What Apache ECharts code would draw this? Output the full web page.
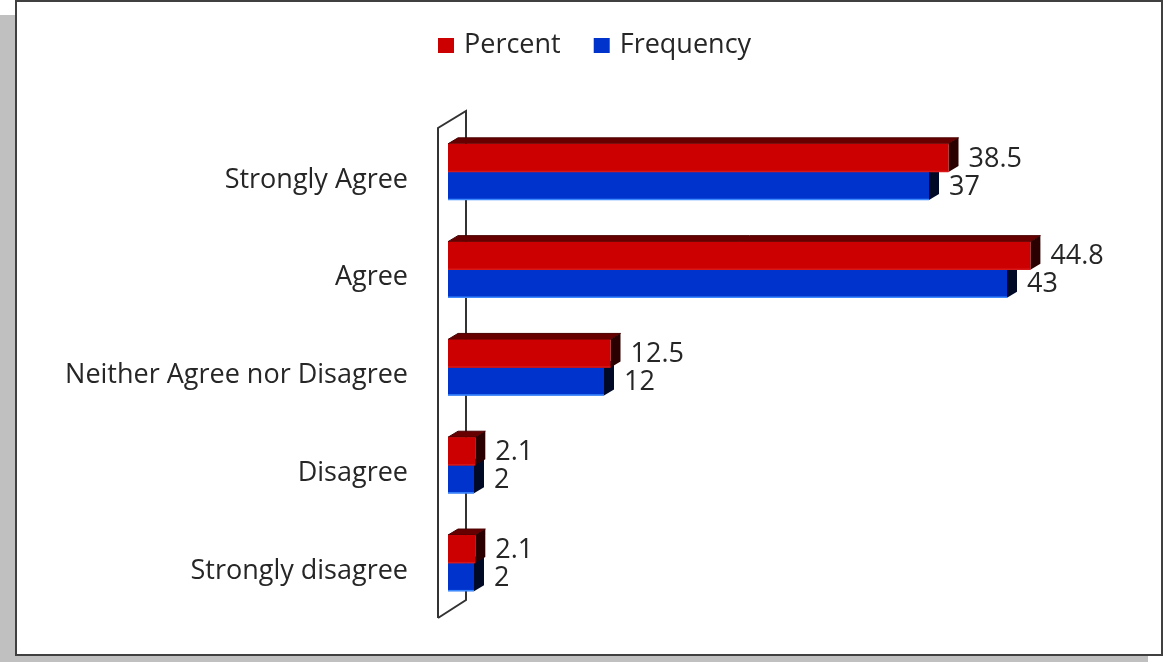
<!DOCTYPE html>
<html>
<head>
<meta charset="utf-8">
<script src="https://cdn.jsdelivr.net/npm/echarts@6/dist/echarts.min.js"></script>
<style>
html,body{margin:0;padding:0;background:#fff;}
#chart{width:1164px;height:662px;}
</style>
</head>
<body>
<div id="chart"></div>
<script>
const categories = ["Strongly Agree", "Agree", "Neither Agree nor Disagree", "Disagree", "Strongly disagree"];
const percentValues = [38.5, 44.8, 12.5, 2.1, 2.1];
const frequencyValues = [37, 43, 12, 2, 2];
const seriesNames = ["Percent", "Frequency"];

const FONT = "'Open Sans'";
const FS = 27;
const DX = 10, DY = -6;

function barRenderer(colors, offsetSign) {
  return function (params, api) {
    const val = api.value(0);
    const cat = api.value(1);
    const start = api.coord([0, cat]);
    const end = api.coord([val, cat]);
    const band = api.size([0, 1])[1];
    const h = band * 0.287;
    const y0 = offsetSign < 0 ? start[1] - h : start[1];
    const y1 = y0 + h;
    const x0 = start[0], x1 = end[0];
    const label = api.value(2);
    return {
      type: 'group',
      children: [
        { type: 'polygon', shape: { points: [[x0, y0], [x0 + DX, y0 + DY], [x1 + DX, y0 + DY], [x1, y0]] }, style: { fill: colors.top, stroke: colors.topEdge, lineWidth: 1 } },
        { type: 'polygon', shape: { points: [[x1, y0], [x1 + DX, y0 + DY], [x1 + DX, y1 + DY], [x1, y1]] }, style: { fill: colors.side } },
        { type: 'rect', shape: { x: x0, y: y0, width: x1 - x0, height: h }, style: { fill: colors.front } },
        { type: 'line', shape: { x1: x0, y1: y1 - 0.5, x2: x1, y2: y1 - 0.5 }, style: { stroke: colors.edge, lineWidth: 1.5 } },
        { type: 'text', style: { text: label, x: x1 + DX + 10, y: (y0 + y1) / 2 + 1, fill: '#262626', font: FS + 'px ' + FONT, verticalAlign: 'middle', align: 'left' } }
      ]
    };
  };
}

function wallRenderer(params, api) {
  const cs = params.coordSys;
  const fx = cs.x - 10, bx = cs.x + 18;
  const ft = cs.y + 5, bt = cs.y - 12;
  const fb = cs.y + cs.height + 6, bb = cs.y + cs.height - 12;
  return {
    type: 'group',
    children: [
      { type: 'polyline', shape: { points: [[fx, fb], [fx, ft], [bx, bt], [bx, bb], [fx, fb]] }, style: { stroke: '#333', lineWidth: 2, fill: 'none' } }
    ]
  };
}

const chart = echarts.init(document.getElementById('chart'));
chart.setOption({
  animation: false,
  graphic: [
    { type: 'rect', z: -10, shape: { x: 0, y: 15, width: 1148, height: 655 }, style: { fill: '#c0c0c0' } },
    { type: 'rect', z: -9, shape: { x: 16, y: 1, width: 1146, height: 654 }, style: { fill: '#fff', stroke: '#404040', lineWidth: 2 } }
  ],
  legend: {
    top: 27, left: 433,
    itemWidth: 16, itemHeight: 15, itemGap: 33,
    textStyle: { fontFamily: FONT, fontSize: FS, color: '#262626', padding: [0, 0, 0, 5] },
    data: [
      { name: seriesNames[0], icon: 'rect', itemStyle: { color: '#cc0000' } },
      { name: seriesNames[1], icon: 'rect', itemStyle: { color: '#0033cc' } }
    ]
  },
  grid: { left: 448, right: 66, top: 123, bottom: 50 },
  xAxis: { type: 'value', min: 0, max: 50, show: false },
  yAxis: {
    type: 'category', data: categories, inverse: true,
    axisLine: { show: false }, axisTick: { show: false }, splitLine: { show: false },
    axisLabel: { margin: 40, fontFamily: FONT, fontSize: FS, color: '#262626', verticalAlign: 'top', lineHeight: 16 }
  },
  series: [
    { type: 'custom', name: 'wall', z: 1, renderItem: wallRenderer, data: [[0, 0]], silent: true, encode: { x: 0, y: 1 } },
    { type: 'custom', name: seriesNames[1], z: 2, renderItem: barRenderer({ front: '#0033cc', top: '#001a66', topEdge: '#001a66', side: '#000a26', edge: '#3d8bff' }, 1),
      encode: { x: 0, y: 1 }, itemStyle: { color: '#0033cc' },
      data: frequencyValues.map((v, i) => [v, i, String(v)]) },
    { type: 'custom', name: seriesNames[0], z: 3, renderItem: barRenderer({ front: '#cc0000', top: '#660000', topEdge: '#4a0000', side: '#2a0000', edge: '#d81818' }, -1),
      encode: { x: 0, y: 1 }, itemStyle: { color: '#cc0000' },
      data: percentValues.map((v, i) => [v, i, String(v)]) }
  ]
});
</script>
</body>
</html>
